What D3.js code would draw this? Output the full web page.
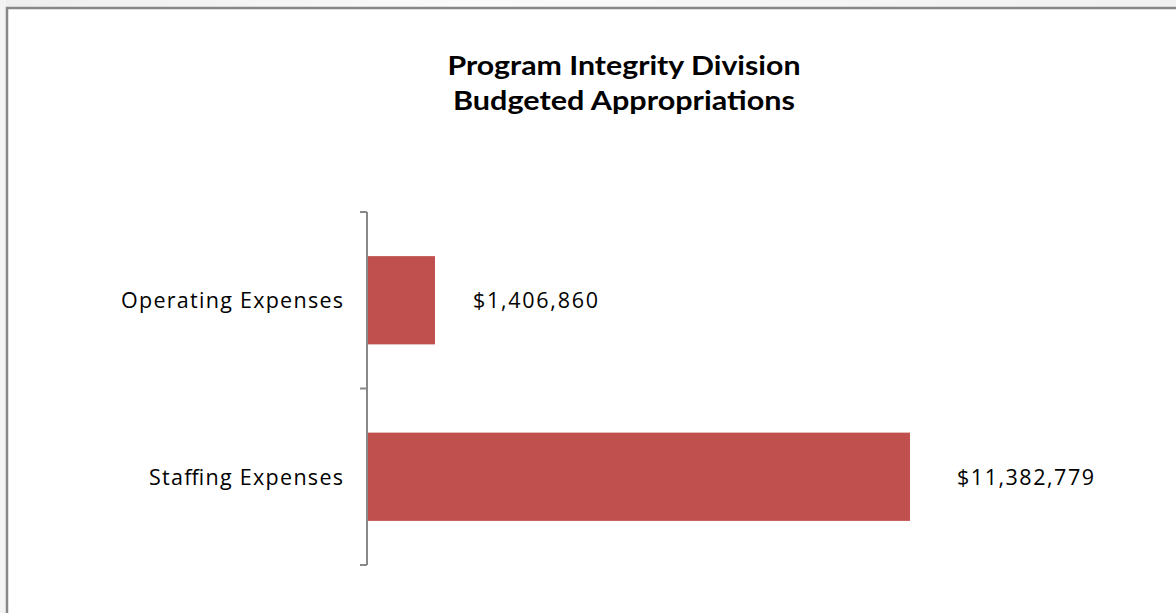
<!DOCTYPE html>
<html><head><meta charset="utf-8">
<script src="https://cdn.jsdelivr.net/npm/d3@7"></script>
<style>html,body{margin:0;padding:0;background:#fff;overflow:hidden}</style>
</head><body>
<script>
const categories = ["Operating Expenses", "Staffing Expenses"];
const values = [1406860, 11382779];
const valueLabels = ["$1,406,860", "$11,382,779"];
const titleLines = ["Program Integrity Division", "Budgeted Appropriations"];

const W = 1176, H = 613;
const svg = d3.select("body").append("svg").attr("width", W).attr("height", H);

// faint background band above frame
const defs = svg.append("defs");
const g1 = defs.append("linearGradient").attr("id","bg").attr("x1","0").attr("x2","1");
g1.append("stop").attr("offset","0").attr("stop-color","#eeeeee");
g1.append("stop").attr("offset","0.4").attr("stop-color","#fafafa");
g1.append("stop").attr("offset","1").attr("stop-color","#f0f0f0");
svg.append("rect").attr("x",0).attr("y",0).attr("width",W).attr("height",8).attr("fill","url(#bg)");
svg.append("rect").attr("x",0).attr("y",0).attr("width",6).attr("height",H).attr("fill","#f3f3f3");

// frame
svg.append("path").attr("d", `M7,${H} L7,8 L${W},8`).attr("fill","none").attr("stroke","#878787").attr("stroke-width",2.5);

// title
const titleWidths = [353, 342];
titleLines.forEach((t, i) => {
  svg.append("text").text(t)
    .attr("x", 624).attr("y", 75 + i*35)
    .attr("text-anchor","middle")
    .attr("font-family","Lato, 'Open Sans', sans-serif")
    .attr("font-weight","bold").attr("font-size",27).attr("fill","#000")
    .attr("textLength", titleWidths[i]).attr("lengthAdjust","spacingAndGlyphs");
});

// scales
const x = d3.scaleLinear().domain([0, values[1]]).range([368, 910]);
const y = d3.scaleBand().domain(categories).range([212, 565]).paddingInner(0.5).paddingOuter(0.25);

// bars
svg.selectAll("rect.bar").data(categories).enter().append("rect")
  .attr("class","bar")
  .attr("x", x(0)).attr("y", d => y(d))
  .attr("width", (d,i) => x(values[i]) - x(0))
  .attr("height", y.bandwidth())
  .attr("fill","#c0504d");

// axis
const axisG = svg.append("g").attr("transform","translate(367,0)");
axisG.append("line").attr("x1",0).attr("x2",0).attr("y1",212).attr("y2",565)
  .attr("stroke","#898989").attr("stroke-width",2);
const bounds = [212, 388.5, 565];
bounds.forEach(b => axisG.append("line").attr("x1",-7).attr("x2",0).attr("y1",b).attr("y2",b)
  .attr("stroke","#898989").attr("stroke-width",2));

// category labels
const catWidths = [222, 194];
categories.forEach((c,i) => {
  svg.append("text").text(c)
    .attr("x", 343 - catWidths[i]).attr("y", y(c) + y.bandwidth()/2 + 8)
    .attr("font-family","'Open Sans', sans-serif")
    .attr("font-size",21.5).attr("fill","#000")
    .attr("textLength", catWidths[i]).attr("lengthAdjust","spacing");
});

// value labels
const offsets = [38, 47];
const valWidths = [125, 137];
values.forEach((v,i) => {
  svg.append("text").text(valueLabels[i])
    .attr("x", x(v) + offsets[i]).attr("y", y(categories[i]) + y.bandwidth()/2 + 8)
    .attr("font-family","'Open Sans', sans-serif")
    .attr("font-size",21.5).attr("fill","#000")
    .attr("textLength", valWidths[i]).attr("lengthAdjust","spacing");
});
</script>
</body></html>
